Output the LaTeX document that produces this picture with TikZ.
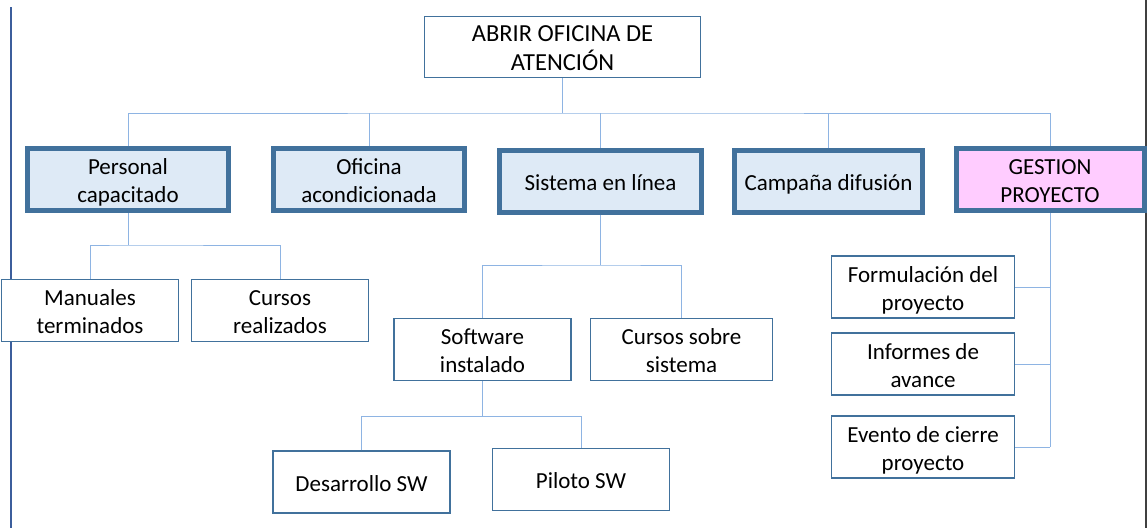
\documentclass[tikz,border=0pt]{standalone}
\usepackage{fontspec}
\setmainfont{Carlito}
\definecolor{boxblue}{HTML}{41719C}
\definecolor{fillblue}{HTML}{DEEAF6}
\definecolor{fillpink}{HTML}{FFCCFF}
\definecolor{connblue}{HTML}{8EB4E3}
\definecolor{edgeblue}{HTML}{3C5E9C}
\newcommand{\lbl}[1]{\raisebox{-3.5pt}[\height][\depth]{\begin{tabular}{@{}c@{}}#1\end{tabular}}}
\begin{document}
\begin{tikzpicture}[x=1pt,y=-1pt,
  every node/.style={font=\fontsize{23}{28}\selectfont, align=center, inner sep=0pt},
  topbox/.style={draw=boxblue, line width=1.2pt, fill=white, minimum width=276pt, minimum height=61pt, font=\fontsize{24.5}{28}\selectfont},
  lvlbox/.style={draw=boxblue, line width=5pt, fill=fillblue, minimum height=62pt},
  leafbox/.style={draw=boxblue, line width=1.2pt, fill=white, minimum width=177pt, minimum height=62pt},
  conn/.style={draw=connblue, line width=1pt}]
\useasboundingbox (0,0) rectangle (1147,528);
\fill[white] (0,0) rectangle (1147,528);
\draw[edgeblue, line width=2.5pt] (11,7) -- (11,528);
\draw[black!75, line width=1.5pt] (1146,0) -- (1146,528);

% nodes
\node[topbox] (top) at (562.5,47) {\lbl{ABRIR OFICINA DE\\ATENCIÓN}};
\node[lvlbox, minimum width=201pt] (per) at (128,179.5) {\lbl{Personal\\capacitado}};
\node[lvlbox, minimum width=191pt] (ofi) at (369,179.5) {\lbl{Oficina\\acondicionada}};
\node[lvlbox, minimum width=202pt] (sis) at (600.5,181) {\lbl{Sistema en línea}};
\node[lvlbox, minimum width=188pt] (cam) at (828.5,181.5) {\lbl{Campaña difusión}};
\node[lvlbox, minimum width=188pt, fill=fillpink] (ges) at (1050,179.5) {\lbl{GESTION\\PROYECTO}};

\node[leafbox] (man) at (90,310.5) {\lbl{Manuales\\terminados}};
\node[leafbox] (cur) at (280,310.5) {\lbl{Cursos\\realizados}};
\node[leafbox] (sof) at (482.5,349.5) {\lbl{Software\\instalado}};
\node[leafbox, minimum width=182pt] (css) at (681.5,349.5) {\lbl{Cursos sobre\\sistema}};
\node[leafbox] (des) at (361.5,482) {\lbl{Desarrollo SW}};
\node[leafbox] (pil) at (581,479.5) {\lbl{Piloto SW}};
\node[leafbox, minimum width=183pt] (for) at (923,287) {\lbl{Formulación del\\proyecto}};
\node[leafbox, minimum width=183pt] (inf) at (923,364) {\lbl{Informes de\\avance}};
\node[leafbox, minimum width=183pt] (eve) at (923,447) {\lbl{Evento de cierre\\proyecto}};

% connectors
\coordinate (b1) at (562.5,113);
\draw[conn] (top.south) -- (b1);
\draw[conn] (per.north) |- (b1) -| (ges.north);
\draw[conn] (ofi.north) -- (ofi.north |- b1);
\draw[conn] (sis.north) -- (sis.north |- b1);
\draw[conn] (cam.north) -- (cam.north |- b1);

\coordinate (b2) at (128,245);
\draw[conn] (per.south) -- (b2);
\draw[conn] (man.north) |- (b2) -| (cur.north);

\coordinate (b3) at (600.5,265);
\draw[conn] (sis.south) -- (b3);
\draw[conn] (sof.north) |- (b3) -| (css.north);

\coordinate (b4) at (482.5,416);
\draw[conn] (sof.south) -- (b4);
\draw[conn] (des.north) |- (b4) -| (pil.north);

\coordinate (g1) at (1050,447);
\draw[conn] (ges.south) -- (g1);
\draw[conn] (for.east) -- (for.east -| g1);
\draw[conn] (inf.east) -- (inf.east -| g1);
\draw[conn] (eve.east) -- (g1);
\end{tikzpicture}
\end{document}
